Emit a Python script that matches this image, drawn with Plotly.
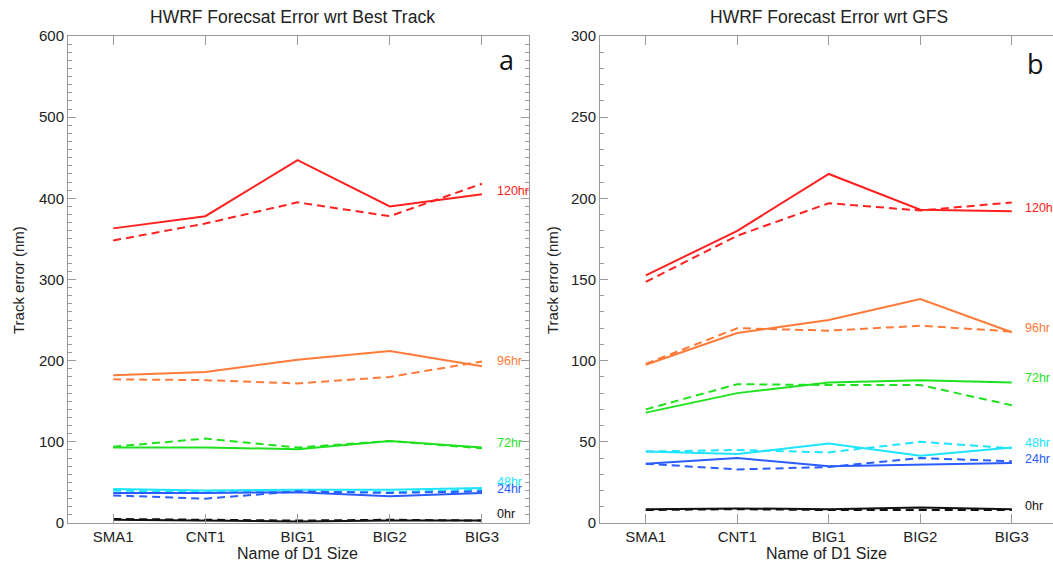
import plotly.graph_objects as go

categories = ["SMA1", "CNT1", "BIG1", "BIG2", "BIG3"]
lead_labels = ["120hr", "96hr", "72hr", "48hr", "24hr", "0hr"]

# Panel a: error wrt Best Track (solid / dashed experiments)
bt_solid_120 = [363, 378, 447, 390, 405]
bt_solid_96 = [182, 186, 201, 212, 193]
bt_solid_72 = [93, 93, 91, 101, 93]
bt_solid_48 = [42, 40, 41, 41, 43]
bt_solid_24 = [37, 37, 38, 33, 37]
bt_solid_0 = [4, 3, 2, 3, 3]

bt_dash_120 = [348, 369, 395, 378, 418]
bt_dash_96 = [177, 176, 172, 180, 199]
bt_dash_72 = [94, 104, 93, 101, 92]
bt_dash_48 = [40, 38, 39, 38, 41]
bt_dash_24 = [34, 30, 39, 37, 39]
bt_dash_0 = [5, 4, 3, 4, 3]

# Panel b: error wrt GFS
gfs_solid_120 = [152.5, 180, 215, 193, 192]
gfs_solid_96 = [97.5, 117, 125, 138, 117.5]
gfs_solid_72 = [68, 80, 86.5, 88, 86.5]
gfs_solid_48 = [44, 42.5, 49, 41.5, 46.5]
gfs_solid_24 = [36.5, 40, 35, 36, 37]
gfs_solid_0 = [8.5, 9, 8.5, 9.5, 8.5]

gfs_dash_120 = [148.5, 177, 197, 192.5, 197.5]
gfs_dash_96 = [98, 120, 118.5, 121.5, 118]
gfs_dash_72 = [70, 85.5, 85, 85, 72.5]
gfs_dash_48 = [44, 45, 43.5, 50, 46]
gfs_dash_24 = [36.5, 33, 34.5, 40, 38]
gfs_dash_0 = [8, 8.5, 8, 8, 8]

# label anchor heights (annotation placement)
bt_label_y = [409, 199, 99, 51, 42, 11]
gfs_label_y = [194, 120, 89.5, 49.4, 39.5, 10.5]

colors = ["#ff2020", "#ff7a38", "#1ee21e", "#1ee4ff", "#2a5cff", "#111111"]

bt_solid = [bt_solid_120, bt_solid_96, bt_solid_72, bt_solid_48, bt_solid_24, bt_solid_0]
bt_dash = [bt_dash_120, bt_dash_96, bt_dash_72, bt_dash_48, bt_dash_24, bt_dash_0]
gfs_solid = [gfs_solid_120, gfs_solid_96, gfs_solid_72, gfs_solid_48, gfs_solid_24, gfs_solid_0]
gfs_dash = [gfs_dash_120, gfs_dash_96, gfs_dash_72, gfs_dash_48, gfs_dash_24, gfs_dash_0]

xi = list(range(len(categories)))
FONT = "Liberation Sans, Arial, sans-serif"

fig = go.Figure()
for panel, (solid, dash) in enumerate([(bt_solid, bt_dash), (gfs_solid, gfs_dash)]):
    xa = "x" if panel == 0 else "x2"
    ya = "y" if panel == 0 else "y2"
    for k in range(len(lead_labels)):
        fig.add_trace(go.Scatter(x=xi, y=dash[k], mode="lines", xaxis=xa, yaxis=ya,
                                 line=dict(color=colors[k], width=2, dash="8px,5px"),
                                 showlegend=False, hoverinfo="skip"))
        fig.add_trace(go.Scatter(x=xi, y=solid[k], mode="lines", xaxis=xa, yaxis=ya,
                                 line=dict(color=colors[k], width=2),
                                 showlegend=False, hoverinfo="skip"))

W, H = 1053, 562
L, R, T, B = 68, 0, 36, 39
pw = W - L - R
ph = H - T - B

def px(x):
    return (x - L) / pw

def py(y):
    return (H - B - y) / ph

axis_common = dict(showline=True, linecolor="#9a9a9a", linewidth=1,
                   ticks="inside", tickcolor="#9a9a9a", showgrid=False, zeroline=False,
                   tickfont=dict(family=FONT, size=15, color="#222"))

xaxis_common = dict(axis_common, tickvals=xi, ticktext=categories, ticklen=9, mirror="ticks")

fig.update_layout(
    width=W, height=H, margin=dict(l=L, r=R, t=T, b=B),
    paper_bgcolor="white", plot_bgcolor="white",
    xaxis=dict(xaxis_common, domain=[0, px(529)], range=[-0.49, 4.51], anchor="y"),
    xaxis2=dict(xaxis_common, domain=[px(600), 1], range=[-0.5, 4.45], anchor="y2"),
    yaxis=dict(axis_common, domain=[0, 1], range=[0, 600], dtick=100, ticklen=8,
               mirror="ticks", anchor="x",
               minor=dict(dtick=10, ticks="inside", ticklen=4, tickcolor="#9a9a9a")),
    yaxis2=dict(axis_common, domain=[0, 1], range=[0, 300], dtick=50, ticklen=8,
                anchor="x2",
                minor=dict(dtick=10, ticks="inside", ticklen=4, tickcolor="#9a9a9a")),
)

ann = []
for k, lab in enumerate(lead_labels):
    ann.append(dict(x=4.14, y=bt_label_y[k], xref="x", yref="y", text=lab, showarrow=False,
                    xanchor="left", yanchor="middle",
                    font=dict(family=FONT, size=12.5, color=colors[k])))
    ann.append(dict(x=4.12, y=gfs_label_y[k], xref="x2", yref="y2", text=lab, showarrow=False,
                    xanchor="left", yanchor="middle",
                    font=dict(family=FONT, size=12.5, color=colors[k])))

ann += [
    dict(x=px(292), y=py(17), xref="paper", yref="paper", text="HWRF Forecsat Error wrt Best Track",
         showarrow=False, xanchor="center", yanchor="middle", font=dict(family=FONT, size=17.5, color="#222")),
    dict(x=px(829), y=py(17), xref="paper", yref="paper", text="HWRF Forecast Error wrt GFS",
         showarrow=False, xanchor="center", yanchor="middle", font=dict(family=FONT, size=17.5, color="#222")),
    dict(x=px(18), y=py(280), xref="paper", yref="paper", text="Track error (nm)", textangle=-90,
         showarrow=False, xanchor="center", yanchor="middle", font=dict(family=FONT, size=15, color="#222")),
    dict(x=px(552), y=py(280), xref="paper", yref="paper", text="Track error (nm)", textangle=-90,
         showarrow=False, xanchor="center", yanchor="middle", font=dict(family=FONT, size=15, color="#222")),
    dict(x=px(297), y=py(553), xref="paper", yref="paper", text="Name of D1 Size",
         showarrow=False, xanchor="center", yanchor="middle", font=dict(family=FONT, size=16, color="#222")),
    dict(x=px(826), y=py(553), xref="paper", yref="paper", text="Name of D1 Size",
         showarrow=False, xanchor="center", yanchor="middle", font=dict(family=FONT, size=16, color="#222")),
    dict(x=px(506), y=py(60), xref="paper", yref="paper", text="a",
         showarrow=False, xanchor="center", yanchor="middle", font=dict(family="Open Sans, sans-serif", size=27, color="#111")),
    dict(x=px(1035), y=py(64), xref="paper", yref="paper", text="b",
         showarrow=False, xanchor="center", yanchor="middle", font=dict(family="Open Sans, sans-serif", size=27, color="#111")),
]
fig.update_layout(annotations=ann)

fig.write_html("out.html")
